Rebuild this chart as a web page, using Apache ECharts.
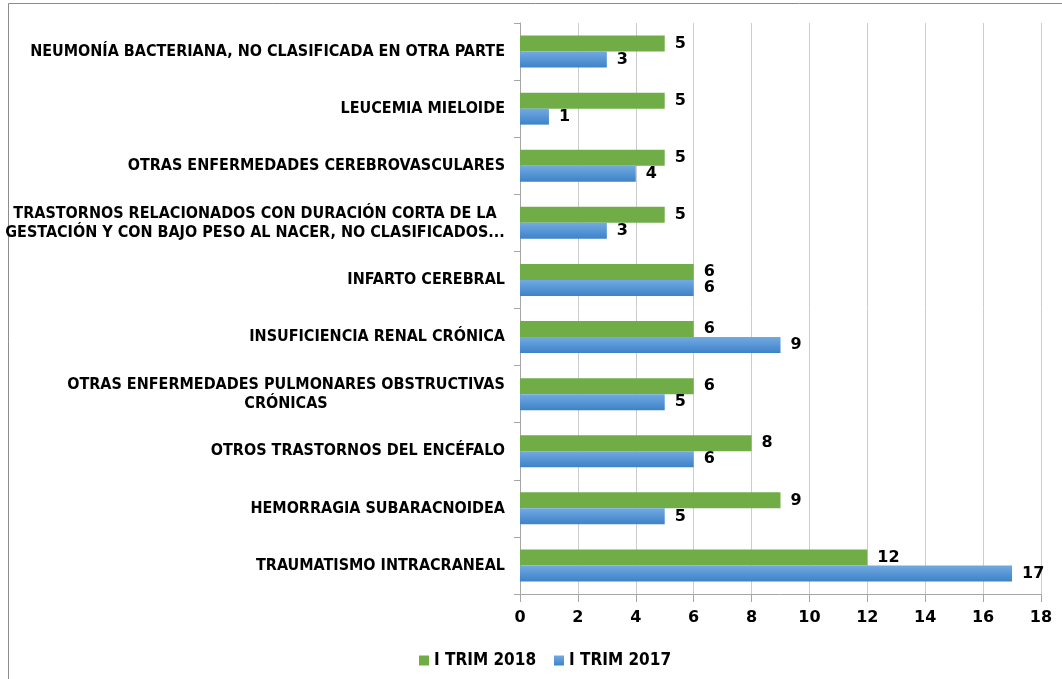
<!DOCTYPE html>
<html>
<head>
<meta charset="utf-8">
<script src="https://cdn.jsdelivr.net/npm/echarts@6/dist/echarts.min.js"></script>
<style>
  html, body { margin: 0; padding: 0; background: #ffffff; }
  #chart { width: 1062px; height: 679px; }
</style>
</head>
<body>
<div id="chart"></div>
<script>
// categories listed bottom -> top (category axis runs upward)
const categories = [
  'TRAUMATISMO INTRACRANEAL',
  'HEMORRAGIA SUBARACNOIDEA',
  'OTROS TRASTORNOS DEL ENCÉFALO',
  'OTRAS ENFERMEDADES PULMONARES OBSTRUCTIVAS\nCRÓNICAS',
  'INSUFICIENCIA RENAL CRÓNICA',
  'INFARTO CEREBRAL',
  'TRASTORNOS RELACIONADOS CON DURACIÓN CORTA DE LA\nGESTACIÓN Y CON BAJO PESO AL NACER, NO CLASIFICADOS...',
  'OTRAS ENFERMEDADES CEREBROVASCULARES',
  'LEUCEMIA MIELOIDE',
  'NEUMONÍA BACTERIANA, NO CLASIFICADA EN OTRA PARTE'
];
const trim2018 = [12, 9, 8, 6, 6, 6, 5, 5, 5, 5];
const trim2017 = [17, 5, 6, 5, 9, 6, 3, 4, 1, 3];
const seriesNames = ['I TRIM 2018', 'I TRIM 2017'];
const xTicks = { min: 0, max: 18, step: 2 };

const catFont = '"DejaVu Sans Condensed", "Liberation Sans Narrow", sans-serif';
const numFont = '"DejaVu Sans", sans-serif';
const catSize = 16;

// multi-line labels: lines centred inside a right-aligned block
const ctx = document.createElement('canvas').getContext('2d');
ctx.font = 'bold ' + catSize + 'px ' + catFont;
const rich = {};
categories.forEach((c, i) => {
  const lines = c.split('\n');
  if (lines.length > 1) {
    let w = 0;
    lines.forEach(l => { w = Math.max(w, ctx.measureText(l).width); });
    rich['w' + i] = { width: Math.ceil(w), align: 'center', fontFamily: catFont, fontWeight: 'bold', fontSize: catSize, color: '#000', lineHeight: 19 };
  }
});

const chart = echarts.init(document.getElementById('chart'));

const valueLabel = { show: true, position: 'right', distance: 10, fontFamily: numFont, fontWeight: 'bold', fontSize: 16, color: '#000' };

const option = {
  animation: false,
  textStyle: { fontFamily: catFont },
  graphic: [{
    type: 'rect',
    shape: { x: 8.5, y: 3.5, width: 1100, height: 720 },
    style: { fill: 'none', stroke: '#8c8c8c', lineWidth: 1 },
    silent: true
  }],
  legend: {
    data: seriesNames,
    left: 414,
    top: 647,
    icon: 'rect',
    itemWidth: 10,
    itemHeight: 10,
    itemGap: 18,
    textStyle: { fontFamily: catFont, fontWeight: 'bold', fontSize: 17, color: '#000' }
  },
  grid: { left: 520, right: 21, top: 23, bottom: 85, outerBoundsMode: 'none', containLabel: false },
  xAxis: {
    type: 'value',
    min: xTicks.min,
    max: xTicks.max,
    interval: xTicks.step,
    axisLine: { show: true, lineStyle: { color: '#a6a6a6' } },
    axisTick: { show: true, length: 8, lineStyle: { color: '#a6a6a6' } },
    splitLine: { show: true, lineStyle: { color: '#cccccc' } },
    axisLabel: { margin: 16, fontFamily: numFont, fontWeight: 'bold', fontSize: 16, color: '#000' }
  },
  yAxis: {
    type: 'category',
    data: categories,
    axisLine: { show: true, lineStyle: { color: '#a6a6a6' } },
    axisTick: { show: true, length: 6, lineStyle: { color: '#a6a6a6' } },
    axisLabel: {
      margin: 15,
      fontFamily: catFont,
      fontWeight: 'bold',
      fontSize: catSize,
      color: '#000',
      lineHeight: 19,
      formatter: function (v, i) {
        if (rich['w' + i]) {
          return v.split('\n').map(l => '{w' + i + '|' + l + '}').join('\n');
        }
        return v;
      },
      rich: rich
    }
  },
  series: [
    {
      name: seriesNames[0],
      type: 'bar',
      data: trim2018,
      barGap: '0%',
      barCategoryGap: '44%',
      itemStyle: { color: '#70ad47' },
      label: valueLabel
    },
    {
      name: seriesNames[1],
      type: 'bar',
      data: trim2017,
      barGap: '0%',
      barCategoryGap: '44%',
      itemStyle: {
        color: new echarts.graphic.LinearGradient(0, 0, 0, 1, [
          { offset: 0, color: '#72aae2' },
          { offset: 1, color: '#3d82c8' }
        ])
      },
      label: valueLabel
    }
  ]
};

chart.setOption(option);
</script>
</body>
</html>
